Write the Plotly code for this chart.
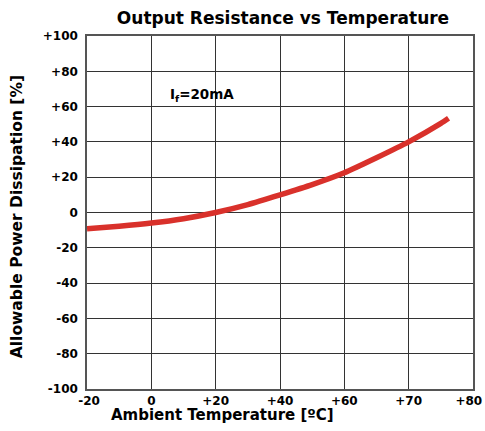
import plotly.graph_objects as go

# grid positions along the x axis (each gridline = one unit)
x_tick_pos = [0, 1, 2, 3, 4, 5, 6]
x_tick_labels = ["-20", "0", "+20", "+40", "+60", "+70", "+80"]
y_tick_vals = [100, 80, 60, 40, 20, 0, -20, -40, -60, -80, -100]
y_tick_labels = ["+100", "+80", "+60", "+40", "+20", "0", "-20", "-40", "-60", "-80", "-100"]

curve_x = [0, 0.5, 1, 1.5, 2, 2.5, 3, 3.5, 4, 4.5, 5, 5.5, 5.62]
curve_y = [-9.2, -7.8, -6, -3.5, 0, 4.5, 10, 15.8, 22.5, 31, 40, 50.5, 53.4]

font_family = "DejaVu Sans, Verdana, sans-serif"

NB = "\u00a0"
x_tick_text = []
for i, t in enumerate(x_tick_labels):
    if i == 0:
        t = NB + t
    elif i == len(x_tick_labels) - 1:
        t = t + NB + NB
    x_tick_text.append("<b>%s</b>" % t)

fig = go.Figure()
fig.add_trace(go.Scatter(
    x=curve_x, y=curve_y, mode="lines",
    line=dict(color="#d9312b", width=5.5, shape="spline", smoothing=0.6),
    showlegend=False, hoverinfo="skip",
))

fig.update_layout(
    width=485, height=431,
    margin=dict(l=87, r=12, t=36, b=42),
    paper_bgcolor="white", plot_bgcolor="white",
    font=dict(family=font_family, color="black"),
    title=dict(text="<b>Output Resistance vs Temperature</b>", x=283 / 485, xanchor="center",
               y=1 - 18 / 431, yanchor="middle", font=dict(size=17, family=font_family, color="black")),
    xaxis=dict(range=[0, 6], tickmode="array", tickvals=x_tick_pos,
               ticktext=x_tick_text,
               showgrid=True, gridcolor="#333333", gridwidth=1,
               showline=True, linecolor="#555", linewidth=1.5, mirror=True,
               zeroline=False, ticks="", tickfont=dict(size=12, family=font_family, color="black"),
               ticklabelstandoff=0, ticklabeloverflow="allow", automargin=False, fixedrange=True),
    yaxis=dict(range=[-100, 100], tickmode="array", tickvals=y_tick_vals,
               ticktext=["<b>%s</b>" % t for t in y_tick_labels],
               showgrid=True, gridcolor="#333333", gridwidth=1,
               showline=True, linecolor="#555", linewidth=1.5, mirror=True,
               zeroline=False, ticks="", tickfont=dict(size=12, family=font_family, color="black"),
               ticklabelstandoff=5, ticklabeloverflow="allow", automargin=False, fixedrange=True),
    annotations=[
        dict(text="<b>Ambient Temperature [ºC]</b>", xref="paper", yref="paper",
             x=0.352, y=-0.074, xanchor="center", yanchor="middle", showarrow=False,
             font=dict(size=15, family=font_family, color="black")),
        dict(text="<b>Allowable Power Dissipation [%]</b>", xref="paper", yref="paper",
             x=-0.181, y=0.487, xanchor="center", yanchor="middle", textangle=-90, showarrow=False,
             font=dict(size=15.5, family=font_family, color="black")),
        dict(text="<b>I<sub>f</sub>=20mA</b>", xref="x", yref="y",
             x=1.257, y=66.6, xanchor="left", yanchor="middle", showarrow=False,
             font=dict(size=13.5, family=font_family, color="black")),
    ],
)

fig.write_html("out.html", config={"displayModeBar": False},
               post_script="document.body.style.margin='0px';document.body.style.overflow='hidden';")
